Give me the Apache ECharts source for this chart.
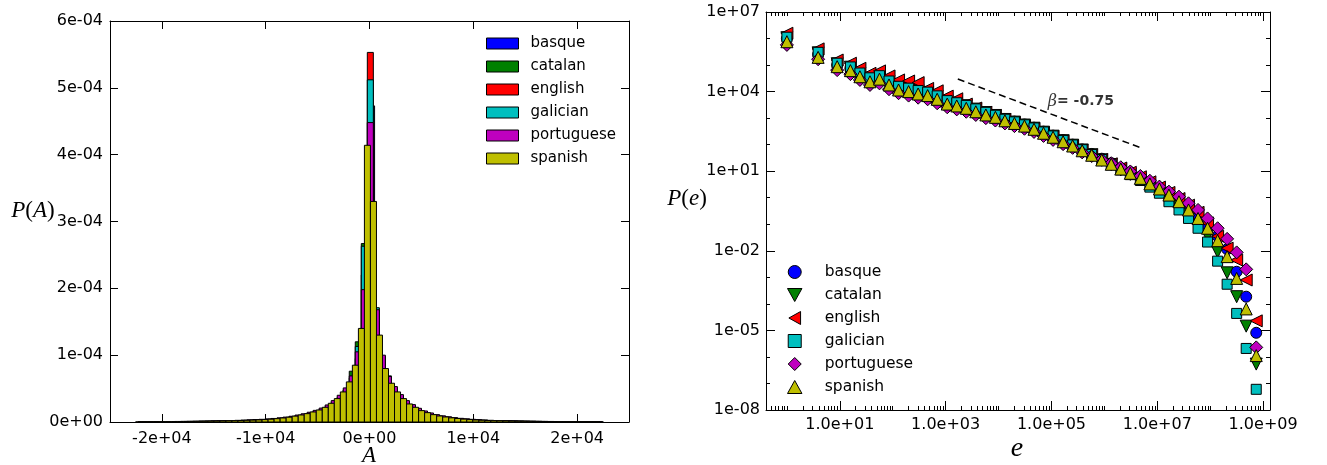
<!DOCTYPE html>
<html><head><meta charset="utf-8">
<script src="https://cdn.jsdelivr.net/npm/echarts@6/dist/echarts.min.js"></script>
<style>html,body{margin:0;padding:0;background:#fff}#c{width:1327px;height:465px}</style>
</head><body><div id="c"></div>
<script>
// ---------- shared ----------
const languages = ['basque', 'catalan', 'english', 'galician', 'portuguese', 'spanish'];
const colors = ['#0000ff', '#008000', '#ff0000', '#00bfbf', '#bf00bf', '#bfbf00'];

// ---------- left panel: histogram of A (values in units of 1e-5) ----------
const histUnit = 1e-5;
const histBinWidth = 580;
const histBinStart = [-22130, -22250, -22250, -22250, -22250, -22530];
const histBasque = [0.01,0.01,0.02,0.02,0.03,0.03,0.04,0.05,0.05,0.06,
  0.07,0.08,0.09,0.1,0.12,0.13,0.15,0.17,0.2,0.22,
  0.25,0.29,0.34,0.4,0.48,0.57,0.7,0.83,1.0,1.2,
  1.45,1.75,2.2,2.9,3.8,5.5,8.5,20.0,
  47.3,
  11.0,7.0,5.0,3.7,2.9,2.3,1.8,1.4,1.1,0.9,
  0.72,0.6,0.5,0.42,0.35,0.3,0.25,0.21,0.18,0.15,
  0.13,0.12,0.1,0.09,0.08,0.07,0.06,0.05,0.05,0.04,
  0.04,0.03,0.03,0.02,0.02,0.01,0.01,0.01];
const histCatalan = [0.01,0.02,0.02,0.03,0.04,0.04,0.05,0.06,0.07,0.08,
  0.09,0.1,0.12,0.13,0.15,0.17,0.19,0.22,0.25,0.28,
  0.32,0.37,0.43,0.5,0.6,0.72,0.87,1.04,1.25,1.5,
  1.8,2.2,2.8,3.6,4.8,7.6,12.0,26.7,
  40.0,
  14.0,8.6,6.0,4.5,3.5,2.7,2.15,1.7,1.35,1.08,
  0.88,0.73,0.61,0.51,0.43,0.36,0.31,0.26,0.22,0.19,
  0.17,0.15,0.13,0.12,0.1,0.09,0.08,0.07,0.06,0.05,
  0.05,0.04,0.03,0.03,0.02,0.02,0.01,0.01];
const histEnglish = [0.01,0.02,0.02,0.03,0.03,0.04,0.04,0.05,0.06,0.07,
  0.08,0.09,0.1,0.11,0.13,0.15,0.17,0.19,0.22,0.25,
  0.28,0.33,0.38,0.45,0.54,0.65,0.8,0.96,1.15,1.4,
  1.7,2.1,2.6,3.3,4.3,6.0,9.5,22.0,
  55.3,
  15.0,9.0,6.2,4.6,3.6,2.8,2.2,1.75,1.4,1.1,
  0.9,0.75,0.63,0.53,0.45,0.38,0.32,0.27,0.23,0.2,
  0.18,0.16,0.14,0.12,0.11,0.1,0.09,0.08,0.07,0.06,
  0.05,0.04,0.04,0.03,0.03,0.02,0.02,0.01];
const histGalician = [0.02,0.03,0.03,0.04,0.05,0.06,0.07,0.08,0.09,0.1,
  0.11,0.12,0.14,0.16,0.18,0.2,0.22,0.25,0.28,0.32,
  0.36,0.41,0.48,0.56,0.66,0.78,0.94,1.11,1.32,1.57,
  1.88,2.3,2.9,3.7,4.8,6.6,11.3,26.3,
  51.2,
  17.1,9.8,6.9,5.0,3.9,3.0,2.4,1.9,1.5,1.2,
  1.0,0.84,0.7,0.59,0.5,0.42,0.36,0.31,0.27,0.23,
  0.2,0.18,0.16,0.14,0.12,0.11,0.1,0.09,0.08,0.07,
  0.06,0.05,0.05,0.04,0.03,0.03,0.02,0.02];
const histPortuguese = [0.03,0.04,0.04,0.05,0.06,0.07,0.08,0.09,0.1,0.11,
  0.13,0.14,0.16,0.18,0.2,0.22,0.25,0.28,0.32,0.36,
  0.4,0.46,0.53,0.62,0.73,0.86,1.04,1.23,1.46,1.74,
  2.08,2.55,3.2,4.0,5.1,6.9,10.5,19.8,
  44.8,
  16.8,10.0,6.8,5.3,4.1,3.2,2.6,2.05,1.65,1.35,
  1.1,0.92,0.78,0.65,0.55,0.47,0.4,0.34,0.29,0.25,
  0.22,0.2,0.18,0.16,0.14,0.12,0.11,0.1,0.09,0.08,
  0.07,0.06,0.05,0.05,0.04,0.03,0.03,0.02];
const histSpanish = [0.02,0.03,0.03,0.04,0.05,0.05,0.06,0.07,0.08,0.09,
  0.1,0.11,0.13,0.14,0.16,0.18,0.2,0.22,0.25,0.28,
  0.31,0.36,0.42,0.5,0.6,0.72,0.88,1.05,1.25,1.5,
  1.8,2.2,2.8,3.5,4.5,6.0,8.5,14.0,
  41.4,
  33.0,13.0,8.0,5.8,4.5,3.5,2.7,2.2,1.7,1.4,
  1.1,0.9,0.75,0.62,0.52,0.43,0.36,0.3,0.26,0.22,
  0.2,0.18,0.16,0.14,0.12,0.11,0.1,0.09,0.08,0.07,
  0.06,0.05,0.05,0.04,0.03,0.03,0.02,0.02];
const histAll = [histBasque, histCatalan, histEnglish, histGalician, histPortuguese, histSpanish];

const xTicksA = [-20000, -10000, 0, 10000, 20000];
const xTickLabelsA = ['-2e+04', '-1e+04', '0e+00', '1e+04', '2e+04'];
const yTicksA = [0, 1e-4, 2e-4, 3e-4, 4e-4, 5e-4, 6e-4];
const yTickLabelsA = ['0e+00', '1e-04', '2e-04', '3e-04', '4e-04', '5e-04', '6e-04'];

// ---------- right panel: P(e), stored as log10 values ----------
const logE = [0, 0.59, 0.95, 1.2, 1.38, 1.57, 1.75, 1.93, 2.11, 2.3, 2.48, 2.66, 2.84, 3.03, 3.21, 3.39,
  3.57, 3.76, 3.94, 4.12, 4.3, 4.49, 4.67, 4.85, 5.03, 5.22, 5.4, 5.58, 5.76, 5.95, 6.13, 6.31,
  6.49, 6.68, 6.86, 7.04, 7.22, 7.41, 7.59, 7.77, 7.95, 8.14, 8.32, 8.5, 8.68, 8.87];
const logPBasque = [6.00, 5.40, 5.00,
  4.87, 4.64, 4.45, 4.55, 4.33, 4.14, 4.08, 3.99, 3.93, 3.79,
  3.61, 3.54, 3.45, 3.32, 3.20, 3.10, 2.97, 2.87, 2.76, 2.64,
  2.49, 2.34, 2.17, 2.00, 1.82, 1.65, 1.47, 1.30, 1.12, 0.96,
  0.78, 0.57, 0.37, 0.15, -0.10, -0.38, -0.68, -1.05, -1.45, -1.94,
  -2.79, -3.73, -5.09];
const logPCatalan = [6.03, 5.46, 5.05,
  4.92, 4.69, 4.51, 4.59, 4.39, 4.19, 4.12, 4.03, 3.97, 3.83,
  3.65, 3.57, 3.47, 3.34, 3.21, 3.10, 2.95, 2.85, 2.74, 2.62,
  2.47, 2.32, 2.15, 1.98, 1.80, 1.62, 1.43, 1.25, 1.05, 0.88,
  0.68, 0.45, 0.22, -0.05, -0.33, -0.62, -1.00, -1.44, -2.04, -2.83,
  -3.73, -4.84, -6.27];
const logPEnglish = [6.20, 5.61, 5.19,
  5.07, 4.88, 4.69, 4.78, 4.59, 4.44, 4.40, 4.34, 4.12, 4.03,
  3.83, 3.73, 3.53, 3.38, 3.22, 3.10, 2.95, 2.83, 2.72, 2.60,
  2.45, 2.30, 2.13, 1.96, 1.79, 1.62, 1.44, 1.28, 1.12, 0.96,
  0.79, 0.60, 0.40, 0.20, -0.03, -0.28, -0.55, -0.95, -1.45, -1.90,
  -2.35, -3.10, -4.64];
const logPGalician = [6.05, 5.48, 5.07,
  4.93, 4.70, 4.52, 4.60, 4.40, 4.20, 4.13, 4.04, 3.98, 3.84,
  3.66, 3.58, 3.48, 3.35, 3.22, 3.11, 2.96, 2.86, 2.75, 2.63,
  2.48, 2.33, 2.16, 1.99, 1.81, 1.63, 1.44, 1.26, 1.05, 0.87,
  0.65, 0.40, 0.17, -0.15, -0.46, -0.78, -1.15, -1.67, -2.39, -3.26,
  -4.36, -5.68, -7.22];
const logPPortuguese = [5.76, 5.22, 4.81,
  4.66, 4.44, 4.25, 4.31, 4.09, 3.94, 3.85, 3.77, 3.71, 3.56,
  3.41, 3.33, 3.24, 3.12, 3.00, 2.91, 2.80, 2.70, 2.60, 2.48,
  2.33, 2.18, 2.02, 1.88, 1.71, 1.57, 1.43, 1.30, 1.15, 0.99,
  0.82, 0.64, 0.42, 0.23, 0.04, -0.21, -0.46, -0.78, -1.15, -1.55,
  -2.06, -2.70, -5.64];
const logPSpanish = [5.88, 5.29, 4.94,
  4.79, 4.56, 4.37, 4.47, 4.25, 4.06, 4.00, 3.91, 3.85, 3.71,
  3.53, 3.46, 3.37, 3.24, 3.12, 3.03, 2.90, 2.80, 2.70, 2.58,
  2.43, 2.28, 2.11, 1.95, 1.77, 1.60, 1.42, 1.26, 1.08, 0.92,
  0.73, 0.52, 0.33, 0.10, -0.15, -0.46, -0.78, -1.15, -1.62, -2.22,
  -3.04, -4.19, -5.95];
const logPAll = [logPBasque, logPCatalan, logPEnglish, logPGalician, logPPortuguese, logPSpanish];

const xRangeE = [-0.395, 9.13];
const yRangeP = [-8, 7];
const xTicksE = [1, 3, 5, 7, 9];
const xTickLabelsE = ['1.0e+01', '1.0e+03', '1.0e+05', '1.0e+07', '1.0e+09'];
const yTicksP = [-8, -5, -2, 1, 4, 7];
const yTickLabelsP = ['1e-08', '1e-05', '1e-02', '1e+01', '1e+04', '1e+07'];
const yMinorP = [-7, -6, -4, -3, -1, 0, 2, 3, 5, 6];
const slopeLine = [[3.23, 4.475], [6.73, 1.85]];
const slopeLabelAt = [4.93, 3.62];
const slopeText = '-0.75';

// ---------- build ----------
const FONT = 'DejaVu Sans';
const xMinorE = [];
for (let k = -1; k <= 9; k++) {
  for (let j = 1; j <= 9; j++) {
    const v = k + Math.log10(j);
    if (v <= xRangeE[0] || v >= xRangeE[1]) continue;
    if (j === 1 && xTicksE.indexOf(k) >= 0) continue;
    xMinorE.push(v);
  }
}
function lookup(ticks, labels) {
  return function (v) {
    for (let i = 0; i < ticks.length; i++) if (Math.abs(ticks[i] - v) < 1e-9) return labels[i];
    return '';
  };
}
function mkAxis(opt) {
  const a = {
    type: 'value', gridIndex: opt.grid, position: opt.position, min: opt.min, max: opt.max,
    axisLine: { show: opt.line !== false, onZero: false, lineStyle: { color: '#000', width: 1 } },
    splitLine: { show: false },
    axisTick: { show: true, inside: true, length: opt.tickLen || 8, customValues: opt.ticks,
      lineStyle: { color: '#000', width: 1 } },
    axisLabel: { show: false }
  };
  if (opt.labels) {
    a.axisLabel = { show: true, customValues: opt.ticks, formatter: lookup(opt.ticks, opt.labels),
      color: '#000', fontFamily: FONT, fontSize: 16, margin: opt.margin || 8 };
  }
  return a;
}

const xAxes = [
  mkAxis({ grid: 0, position: 'bottom', min: -25000, max: 25000, ticks: xTicksA, labels: xTickLabelsA, margin: 9 }),
  mkAxis({ grid: 0, position: 'top', min: -25000, max: 25000, ticks: xTicksA }),
  mkAxis({ grid: 1, position: 'bottom', min: xRangeE[0], max: xRangeE[1], ticks: xTicksE, labels: xTickLabelsE, tickLen: 9, margin: 7 }),
  mkAxis({ grid: 1, position: 'bottom', min: xRangeE[0], max: xRangeE[1], ticks: xMinorE, tickLen: 4, line: false }),
  mkAxis({ grid: 1, position: 'top', min: xRangeE[0], max: xRangeE[1], ticks: xTicksE, tickLen: 9 }),
  mkAxis({ grid: 1, position: 'top', min: xRangeE[0], max: xRangeE[1], ticks: xMinorE, tickLen: 4, line: false })
];
const yAxes = [
  mkAxis({ grid: 0, position: 'left', min: 0, max: 6e-4, ticks: yTicksA, labels: yTickLabelsA, margin: 7 }),
  mkAxis({ grid: 0, position: 'right', min: 0, max: 6e-4, ticks: yTicksA }),
  mkAxis({ grid: 1, position: 'left', min: yRangeP[0], max: yRangeP[1], ticks: yTicksP, labels: yTickLabelsP, tickLen: 9, margin: 6 }),
  mkAxis({ grid: 1, position: 'left', min: yRangeP[0], max: yRangeP[1], ticks: yMinorP, tickLen: 4, line: false }),
  mkAxis({ grid: 1, position: 'right', min: yRangeP[0], max: yRangeP[1], ticks: yTicksP, tickLen: 9 }),
  mkAxis({ grid: 1, position: 'right', min: yRangeP[0], max: yRangeP[1], ticks: yMinorP, tickLen: 4, line: false })
];

const series = [];
languages.forEach(function (name, i) {
  const vals = histAll[i];
  const start = histBinStart[i];
  const color = colors[i];
  series.push({
    type: 'custom', name: name, xAxisIndex: 0, yAxisIndex: 0, silent: true, animation: false,
    itemStyle: { color: color, borderColor: '#000', borderWidth: 1 },
    encode: { x: [0, 1], y: 2 },
    data: vals.map(function (v, k) { return [start + k * histBinWidth, start + (k + 1) * histBinWidth, v * histUnit]; }),
    renderItem: function (params, api) {
      const p0 = api.coord([api.value(0), api.value(2)]);
      const p1 = api.coord([api.value(1), 0]);
      return { type: 'rect', shape: { x: p0[0], y: p0[1], width: p1[0] - p0[0], height: p1[1] - p0[1] },
        style: { fill: color, stroke: '#000', lineWidth: 1 } };
    }
  });
});

const symbols = ['circle', 'triangle', 'triangle', 'rect', 'diamond', 'triangle'];
const symbolRot = [0, 180, 90, 0, 0, 0];
const symbolSizes = [11, 12, 12, 10, 13, 12];
languages.forEach(function (name, i) {
  series.push({
    type: 'scatter', name: name, xAxisIndex: 2, yAxisIndex: 2, silent: true, animation: false,
    symbol: symbols[i], symbolRotate: symbolRot[i], symbolSize: symbolSizes[i],
    itemStyle: { color: colors[i], borderColor: '#000', borderWidth: 1, opacity: 1 },
    data: logE.map(function (x, k) { return [x, logPAll[i][k]]; })
  });
});
series.push({
  type: 'line', name: 'slope', xAxisIndex: 2, yAxisIndex: 2, silent: true, animation: false,
  symbol: 'none', data: slopeLine,
  lineStyle: { color: '#000', width: 1.5, type: [7, 4] }, z: 5
});
series.push({
  type: 'scatter', name: 'slopeLabel', xAxisIndex: 2, yAxisIndex: 2, silent: true, animation: false,
  symbolSize: 0, data: [slopeLabelAt],
  label: { show: true, position: 'right', distance: 0, formatter: '{b|\u03b2}{t|= ' + slopeText + '}',
    rich: { b: { fontFamily: 'DejaVu Serif', fontStyle: 'italic', fontSize: 16, color: '#000' },
            t: { fontFamily: FONT, fontWeight: 'bold', fontSize: 14, color: '#000' } } }
});

const legendIconsE = ['circle', 'path://M0,0L10,0L5,9Z', 'path://M9,0L9,10L0,5Z',
  'path://M0,0L10,0L10,10L0,10Z', 'path://M5,0L10,5L5,10L0,5Z', 'path://M5,0L10,9L0,9Z'];

const option = {
  backgroundColor: '#fff',
  animation: false,
  grid: [
    { left: 110, top: 21, width: 519, height: 401 },
    { left: 766, top: 12, width: 504, height: 398 }
  ],
  xAxis: xAxes,
  yAxis: yAxes,
  legend: [
    { orient: 'vertical', left: 481, top: 31, itemWidth: 32, itemHeight: 11, itemGap: 8, selectedMode: false,
      textStyle: { fontFamily: FONT, fontSize: 15, color: '#000', padding: [0, 0, 0, 7] },
      data: languages.map(function (n, i) {
        return { name: n, icon: 'rect', itemStyle: { color: colors[i], borderColor: '#000', borderWidth: 1 } };
      }) },
    { orient: 'vertical', left: 782, top: 259, itemWidth: 30, itemHeight: 13, itemGap: 7, selectedMode: false,
      textStyle: { fontFamily: FONT, fontSize: 15.5, color: '#000', padding: [0, 0, 0, 10] },
      data: languages.map(function (n, i) {
        return { name: n, icon: legendIconsE[i], itemStyle: { color: colors[i], borderColor: '#000', borderWidth: 1 } };
      }) }
  ],
  graphic: [
    { type: 'text', x: 33, y: 211, style: { text: '{i|P}{u|(}{i|A}{u|)}', align: 'center', verticalAlign: 'middle',
      rich: { i: { fontFamily: 'Liberation Serif', fontStyle: 'italic', fontSize: 23, fill: '#000' },
              u: { fontFamily: 'Liberation Serif', fontSize: 23, fill: '#000' } } } },
    { type: 'text', x: 369, y: 456, style: { text: 'A', font: 'italic 23px "Liberation Serif"', fill: '#000', align: 'center', verticalAlign: 'middle' } },
    { type: 'text', x: 687, y: 199, style: { text: '{i|P}{u|(}{i|e}{u|)}', align: 'center', verticalAlign: 'middle',
      rich: { i: { fontFamily: 'Liberation Serif', fontStyle: 'italic', fontSize: 23, fill: '#000' },
              u: { fontFamily: 'Liberation Serif', fontSize: 23, fill: '#000' } } } },
    { type: 'text', x: 1017, y: 449, style: { text: 'e', font: 'italic 28px "Liberation Serif"', fill: '#000', align: 'center', verticalAlign: 'middle' } }
  ],
  series: series
};

const chart = echarts.init(document.getElementById('c'), null, { renderer: 'canvas' });
chart.setOption(option);
</script></body></html>
